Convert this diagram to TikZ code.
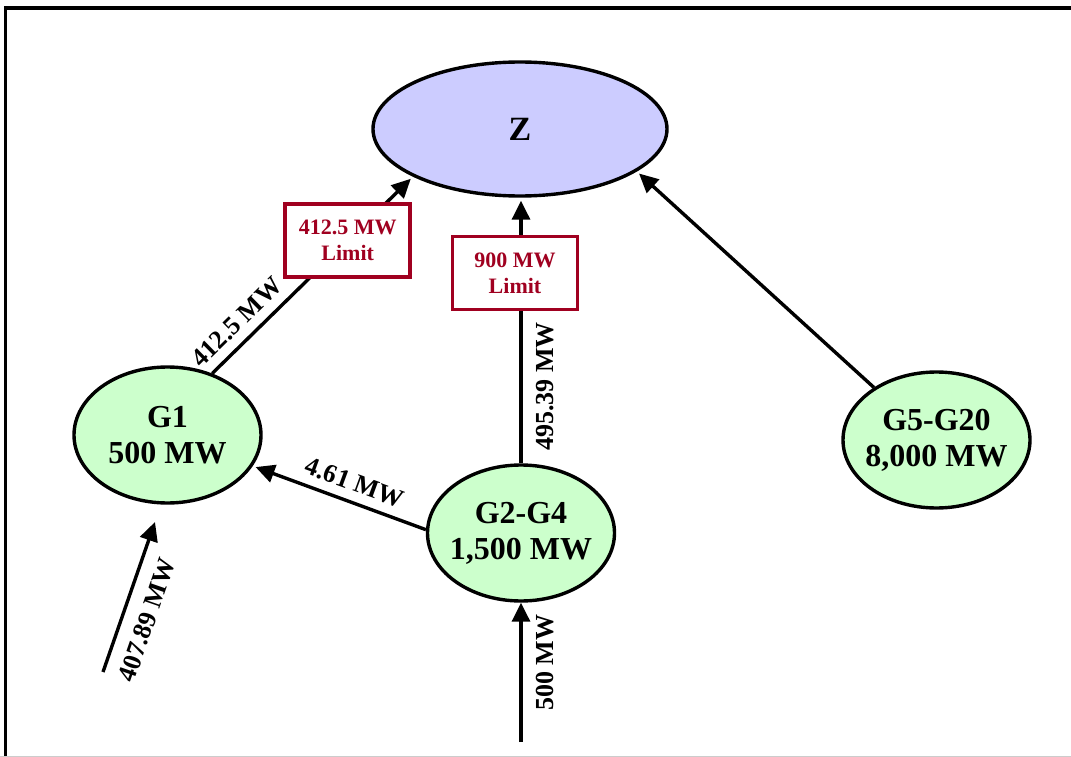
\documentclass[tikz,border=0pt]{standalone}
\usepackage{fontspec}
\setmainfont{Liberation Serif}
\usepackage{tikz}
\definecolor{zonefill}{RGB}{204,204,255}
\definecolor{genfill}{RGB}{204,255,204}
\definecolor{limitred}{RGB}{160,0,32}
\usetikzlibrary{
  arrows.meta,
  shapes.geometric,
  calc
}

\begin{document}
\begin{tikzpicture}[
    x=1pt, y=-1pt,
    zone/.style={
      ellipse, draw=black, line width=3.4pt, fill=zonefill,
      minimum width=294pt, minimum height=134pt, inner sep=-12pt,
      font=\bfseries\fontsize{34}{38}\selectfont,
    },
    gen/.style={
      ellipse, draw=black, line width=3.4pt, fill=genfill,
      minimum width=187pt, minimum height=136pt, inner sep=-16pt,
      align=center, font=\bfseries\fontsize{32}{36}\selectfont,
    },
    limitbox/.style={
      rectangle, draw=limitred, line width=3.6pt, fill=white, text=limitred,
      minimum width=125pt, minimum height=73pt, inner sep=0pt, align=center,
      font=\bfseries\fontsize{22}{26}\selectfont,
    },
    mwlabel/.style={sloped, inner sep=9pt, font=\bfseries\fontsize{26}{28}\selectfont},
    flow/.style={->, line width=3.4pt, shorten >=3pt},
    >={Triangle[length=19pt,width=18pt]}
  ]
  \useasboundingbox (0,0) rectangle (1071,757);

  %% --- frame ---
  \draw[line width=3.6pt, line join=miter] (1071,8) -- (5.5,8) -- (5.5,757);
  \draw[black!20, line width=1pt] (0,756.5) -- (1071,756.5);

  %% --- zone and generators ---
  \node[zone] (Z) at (520,129) {Z};
  \node[gen] (G1) at (167.5,435) {G1\\500 MW};
  \node[gen] (G2) at (521,533) {G2-G4\\1,500 MW};
  \node[gen] (G5) at (936.5,440) {G5-G20\\8,000 MW};

  %% --- free ends of the imports ---
  \coordinate (feedA) at (103,672);
  \coordinate (feedAend) at (155,522);
  \coordinate (feedB) at (521,742);

  %% --- flows ---
  \draw[flow] (G1.54) -- (Z.204)
    node[mwlabel, above, pos=0.19] (f1) {412.5 MW}
    node[limitbox, pos=0.675] (lim1) {412.5 MW\\Limit};

  \draw[flow] (G2.north) -- (G2.north |- Z.south)
    node[mwlabel, below, inner sep=14pt, pos=0.29] (f2) {495.39 MW}
    node[limitbox, pos=0.716, xshift=-6pt] (lim2) {900 MW\\Limit};

  \draw[flow] (G5.140) -- (Z.340);

  \draw[flow] (G2.178) -- (G1.340)
    node[mwlabel, above, pos=0.45] (f3) {4.61 MW};

  \draw[flow, shorten >=0pt] (feedA) -- (feedAend)
    node[mwlabel, below, inner sep=14pt, pos=0.4] (f4) {407.89 MW};

  \draw[flow, shorten >=0pt] (feedB) -- (G2.south)
    node[mwlabel, below, inner sep=14pt, pos=0.57] (f5) {500 MW};
\end{tikzpicture}
\end{document}
